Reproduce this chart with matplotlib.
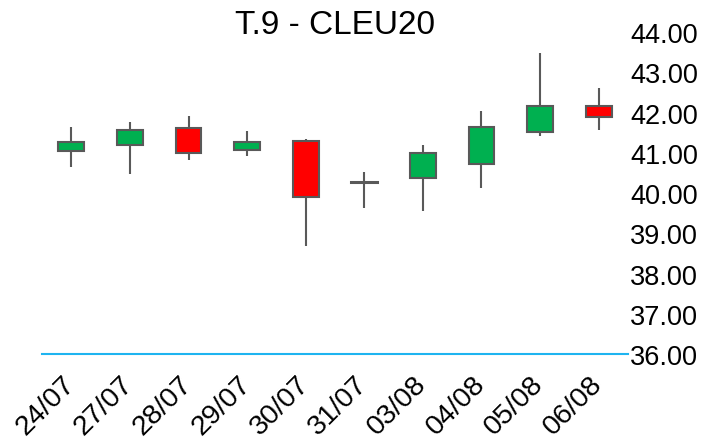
import matplotlib
matplotlib.use("Agg")
import matplotlib.pyplot as plt
from matplotlib.patches import Rectangle
from matplotlib.transforms import ScaledTranslation

dates = ["24/07", "27/07", "28/07", "29/07", "30/07", "31/07", "03/08", "04/08", "05/08", "06/08"]
opens = [41.04, 41.20, 41.61, 41.07, 41.30, 40.27, 40.37, 40.72, 41.51, 42.17]
highs = [41.63, 41.77, 41.91, 41.55, 41.34, 40.51, 41.20, 42.03, 43.47, 42.60]
lows = [40.64, 40.47, 40.82, 40.91, 38.69, 39.64, 39.56, 40.12, 41.42, 41.57]
closes = [41.26, 41.57, 40.99, 41.26, 39.89, 40.28, 40.99, 41.65, 42.17, 41.90]
yticks = [36, 37, 38, 39, 40, 41, 42, 43, 44]

plt.rcParams['font.family'] = ['Liberation Sans', 'DejaVu Sans']

fig = plt.figure(figsize=(7.06, 4.39), dpi=100)
ax = fig.add_axes([0.0595, 0.1913, 0.83, 0.7335])

edge = "#595959"
width = 0.44
for i in range(len(dates)):
    o, h, l, c = opens[i], highs[i], lows[i], closes[i]
    ax.plot([i, i], [l, h], color=edge, lw=1.5, zorder=1, solid_capstyle='butt')
    lo, hi = min(o, c), max(o, c)
    if hi - lo < 0.03:
        ax.plot([i - width / 2, i + width / 2], [o, o], color=edge, lw=2.2, zorder=2)
    else:
        color = "#00B050" if c >= o else "#FF0000"
        ax.add_patch(Rectangle((i - width / 2, lo), width, hi - lo, facecolor=color,
                               edgecolor=edge, lw=1.5, zorder=2))

ax.set_xlim(-0.5, len(dates) - 0.5)
ax.set_ylim(36, 44)
ax.set_xticks(range(len(dates)))
ax.set_xticklabels(dates, rotation=45, ha='right', rotation_mode='anchor', fontsize=20.5)
ax.set_yticks(yticks)
ax.set_yticklabels([f"{v:.2f}" for v in yticks], fontsize=19.5)
ax.yaxis.tick_right()
ax.tick_params(axis='both', length=0)
ax.tick_params(axis='y', pad=1.5)
ax.tick_params(axis='x', pad=9)
offset = ScaledTranslation(-7 / 72, -3 / 72, fig.dpi_scale_trans)
for lab in ax.get_xticklabels():
    lab.set_transform(lab.get_transform() + offset)
for s in ['top', 'left', 'right']:
    ax.spines[s].set_visible(False)
ax.spines['bottom'].set_color("#1EB4F0")
ax.spines['bottom'].set_linewidth(1.5)

fig.text(0.475, 0.942, "T.9 - CLEU20", ha='center', va='center', fontsize=24)

fig.savefig("out.png", dpi=100)
